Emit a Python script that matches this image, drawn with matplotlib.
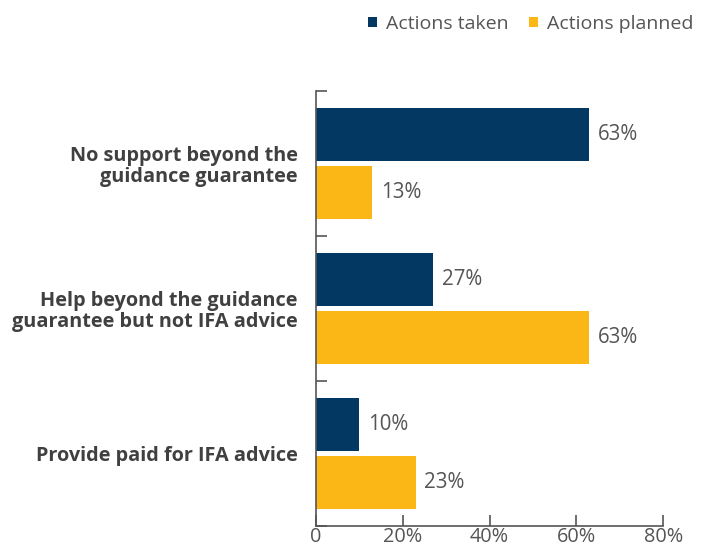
import matplotlib.pyplot as plt
import numpy as np

categories = ["No support beyond the\nguidance guarantee",
              "Help beyond the guidance\nguarantee but not IFA advice",
              "Provide paid for IFA advice"]
actions_taken = [63, 27, 10]
actions_planned = [13, 63, 23]
xticks = [0, 20, 40, 60, 80]
xtick_labels = ["0", "20%", "40%", "60%", "80%"]

navy = "#033863"
yellow = "#FBB715"
grey = "#555555"

plt.rcParams["font.family"] = ["Open Sans", "DejaVu Sans"]

fig = plt.figure(figsize=(7.07, 5.52), dpi=100)
ax = fig.add_axes([0.447, 0.047, 0.491, 0.788])

y = np.arange(len(categories))
h = 0.36
b1 = ax.barh(y - 0.2, actions_taken, height=h, color=navy, label="Actions taken")
b2 = ax.barh(y + 0.2, actions_planned, height=h, color=yellow, label="Actions planned")
for bars in (b1, b2):
    ax.bar_label(bars, labels=[f"{v:.0f}%" for v in bars.datavalues],
                 padding=6, fontsize=14.8, color=grey)

ax.set_xlim(0, 80)
ax.set_ylim(len(categories) - 0.5, -0.5)
ax.set_xticks(xticks)
ax.set_xticklabels(xtick_labels, fontsize=14.3, color=grey)
ax.set_yticks(y)
ax.set_yticklabels(categories, fontsize=14.3, fontweight="bold", color="#404040",
                   linespacing=1.05)
ax.set_yticks(np.arange(len(categories) + 1) - 0.5, minor=True)
ax.tick_params(axis="y", which="major", length=0, pad=13)
ax.tick_params(axis="y", which="minor", direction="in", length=8, color=grey, width=1.2)
ax.tick_params(axis="x", direction="in", length=8, color=grey, width=1.2, pad=0.5)

for s in ["top", "right"]:
    ax.spines[s].set_visible(False)
for s in ["left", "bottom"]:
    ax.spines[s].set_color(grey)
    ax.spines[s].set_linewidth(1.2)

fig.legend(handles=[b1, b2], loc="upper right", bbox_to_anchor=(1.006, 1.005),
           ncol=2, frameon=False, fontsize=14, handlelength=0.42, handleheight=0.42,
           handletextpad=0.5, columnspacing=1.05, labelcolor=grey)

fig.savefig("out.png", dpi=100)
